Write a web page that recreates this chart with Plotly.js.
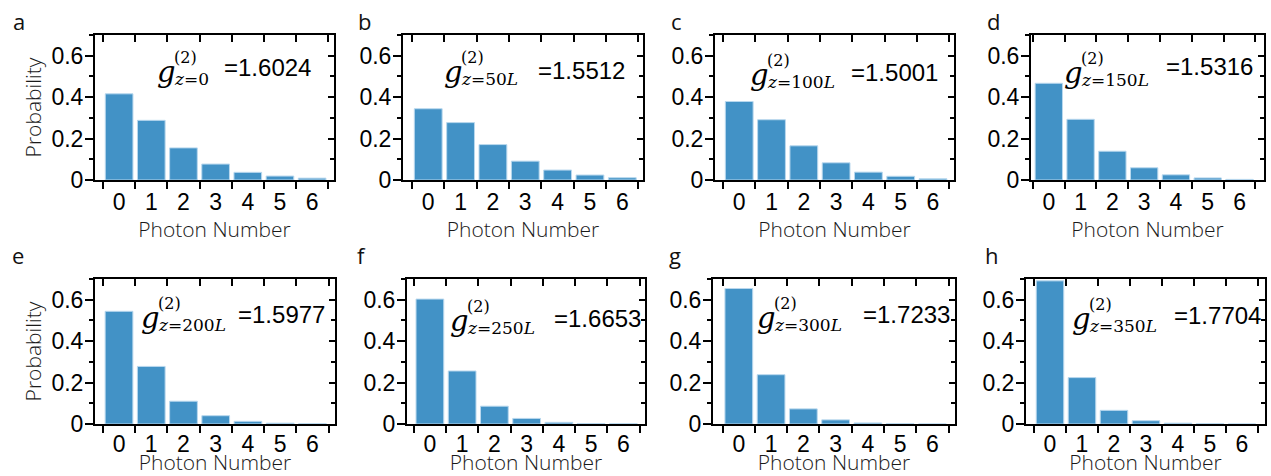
<!DOCTYPE html>
<html><head><meta charset="utf-8">
<script src="https://cdn.plot.ly/plotly-3.0.1.min.js"></script>
<style>html,body{margin:0;padding:0;background:#fff}#chart{width:1271px;height:476px}</style>
</head><body><div id="chart"></div>
<script>
// ---- data ----
const photonNumbers = [0, 1, 2, 3, 4, 5, 6];
const probA = [0.416, 0.288, 0.155, 0.077, 0.037, 0.019, 0.009];
const probB = [0.344, 0.277, 0.171, 0.091, 0.048, 0.024, 0.011];
const probC = [0.379, 0.291, 0.165, 0.083, 0.038, 0.018, 0.006];
const probD = [0.467, 0.293, 0.139, 0.059, 0.025, 0.010, 0.003];
const probE = [0.544, 0.278, 0.110, 0.040, 0.013, 0.004, 0.001];
const probF = [0.603, 0.256, 0.086, 0.027, 0.008, 0.002, 0.001];
const probG = [0.654, 0.238, 0.073, 0.020, 0.005, 0.001, 0.000];
const probH = [0.691, 0.224, 0.066, 0.016, 0.004, 0.001, 0.000];
const panelLetters = ['a', 'b', 'c', 'd', 'e', 'f', 'g', 'h'];
const zLabels = ['<i>z</i>=0', '<i>z</i>=50<i>L</i>', '<i>z</i>=100<i>L</i>', '<i>z</i>=150<i>L</i>',
                 '<i>z</i>=200<i>L</i>', '<i>z</i>=250<i>L</i>', '<i>z</i>=300<i>L</i>', '<i>z</i>=350<i>L</i>'];
const g2Values = ['1.6024', '1.5512', '1.5001', '1.5316', '1.5977', '1.6653', '1.7233', '1.7704'];
const probTickVals = [0, 0.2, 0.4, 0.6];
const probTickText = ['0', '0.2', '0.4', '0.6'];
const xTitle = 'Photon Number';
const yTitle = 'Probability';

const series = [probA, probB, probC, probD, probE, probF, probG, probH];

// ---- layout geometry (pixels) ----
const W = 1271, H = 476;
const px = v => v / W;
const py = v => 1 - v / H;
const boxes = [[95,334,35,180],[403,643,35,180],[715,954,35,180],[1031,1264,35,180],
               [95,335,279,424],[407,645,279,424],[713,955,279,424],[1026,1265,279,424]];
const xRanges = [[-0.75,6.68],[-0.78,6.64],[-0.75,6.65],[-0.56,6.77],
                 [-0.745,6.7],[-0.71,6.67],[-0.8,6.7],[-0.75,6.72]];
const gPos = [[155,72,313,68],[442,72,627,70],[748,75,940,72],[1062,73,1255,67],
              [139,318,327,314],[448,321,643,318],[755,318,952,314],[1070,319,1263,315]];
const letterPos = [[19,21],[364,21],[677,21],[993,21],[18,255],[362,255],[675,255],[992,255]];

const halfTicks = [-0.5, 0.5, 1.5, 2.5, 3.5, 4.5, 5.5, 6.5];
const tickFont = {family: 'Liberation Sans, Arial, sans-serif', size: 23, color: '#000'};
const titleFont = {family: 'Open Sans, sans-serif', size: 21, color: '#1a1a1a', weight: 300};

const data = [];
const layout = {
  width: W, height: H,
  margin: {l: 0, r: 0, t: 0, b: 0},
  paper_bgcolor: '#fff', plot_bgcolor: '#fff',
  showlegend: false,
  bargap: 0,
  annotations: [],
};

series.forEach((vals, i) => {
  const n = i + 1, m = i + 9;
  const [x0, x1, y0, y1] = boxes[i];
  const top = i < 4;
  data.push({
    type: 'bar', x: photonNumbers, y: vals,
    xaxis: 'x' + n, yaxis: 'y' + n,
    width: 0.86,
    marker: {color: '#4292c6', line: {color: '#b9d8ee', width: 1}},
    hoverinfo: 'x+y'
  });
  layout['xaxis' + n] = {
    domain: [px(x0), px(x1)], anchor: 'y' + n, range: xRanges[i],
    tickmode: 'array', tickvals: photonNumbers, ticktext: photonNumbers.map(String),
    ticks: 'outside', ticklen: 0, ticklabelstandoff: top ? 0 : -2,
    minor: {tickvals: halfTicks, ticks: 'outside', ticklen: 7, tickwidth: 2, tickcolor: '#000'},
    showline: true, linewidth: 2, linecolor: '#000', mirror: true,
    showgrid: false, zeroline: false, tickfont: tickFont,
    title: {text: xTitle, font: titleFont, standoff: top ? 3 : 2}
  };
  layout['yaxis' + n] = {
    domain: [py(y1), py(y0)], anchor: 'x' + n, range: [0, 0.7],
    tickmode: 'array', tickvals: probTickVals, ticktext: probTickText,
    ticks: 'outside', ticklen: 8, tickwidth: 2, tickcolor: '#000', ticklabelstandoff: -3,
    minor: {dtick: 0.1, tick0: 0, ticks: 'outside', ticklen: 4, tickwidth: 2, tickcolor: '#000'},
    showline: true, linewidth: 2, linecolor: '#000', mirror: true,
    showgrid: false, zeroline: false, tickfont: tickFont
  };
  if (i === 0 || i === 4) {
    layout['yaxis' + n].title = {text: yTitle, font: titleFont, standoff: 4};
  }
  // inward ticks on top and right sides
  layout['xaxis' + m] = {
    overlaying: 'x' + n, anchor: 'y' + n, side: 'top', range: xRanges[i],
    tickmode: 'array', tickvals: photonNumbers, ticks: 'inside', ticklen: 0,
    minor: {tickvals: halfTicks, ticks: 'inside', ticklen: 7, tickwidth: 2, tickcolor: '#000'},
    showticklabels: false, showline: false, showgrid: false, zeroline: false
  };
  layout['yaxis' + m] = {
    overlaying: 'y' + n, anchor: 'x' + n, side: 'right', range: [0, 0.7],
    tickmode: 'array', tickvals: probTickVals, ticks: 'inside', ticklen: 6, tickwidth: 2, tickcolor: '#000',
    minor: {dtick: 0.1, tick0: 0, ticks: 'inside', ticklen: 4, tickwidth: 2, tickcolor: '#000'},
    showticklabels: false, showline: false, showgrid: false, zeroline: false
  };
  // empty trace so the overlay axes render
  data.push({type: 'scatter', x: [], y: [], xaxis: 'x' + m, yaxis: 'y' + m, hoverinfo: 'skip', showlegend: false});

  const [gx, gy, vx, vy] = gPos[i];
  const serif = 'DejaVu Serif, Liberation Serif, serif';
  layout.annotations.push(
    {xref: 'paper', yref: 'paper', x: px(gx), y: py(gy), xanchor: 'left', yanchor: 'middle',
     text: '<i>g</i>', showarrow: false, font: {family: serif, size: 29, color: '#000'}},
    {xref: 'paper', yref: 'paper', x: px(gx + 17), y: py(gy - 15), xanchor: 'left', yanchor: 'middle',
     text: '(2)', showarrow: false, font: {family: serif, size: 16, color: '#000'}},
    {xref: 'paper', yref: 'paper', x: px(gx + 17), y: py(gy + 7), xanchor: 'left', yanchor: 'middle',
     text: zLabels[i], showarrow: false, font: {family: serif, size: 17, color: '#000'}},
    {xref: 'paper', yref: 'paper', x: px(vx), y: py(vy), xanchor: 'right', yanchor: 'middle',
     text: '=' + g2Values[i], showarrow: false, font: {family: 'Liberation Sans, Arial, sans-serif', size: 24, color: '#000'}},
    {xref: 'paper', yref: 'paper', x: px(letterPos[i][0]), y: py(letterPos[i][1]), xanchor: 'center', yanchor: 'middle',
     text: panelLetters[i], showarrow: false, font: {family: 'Open Sans, sans-serif', size: 22, color: '#111'}}
  );
});

Plotly.newPlot('chart', data, layout, {displayModeBar: false, staticPlot: true});
</script>
</body></html>
